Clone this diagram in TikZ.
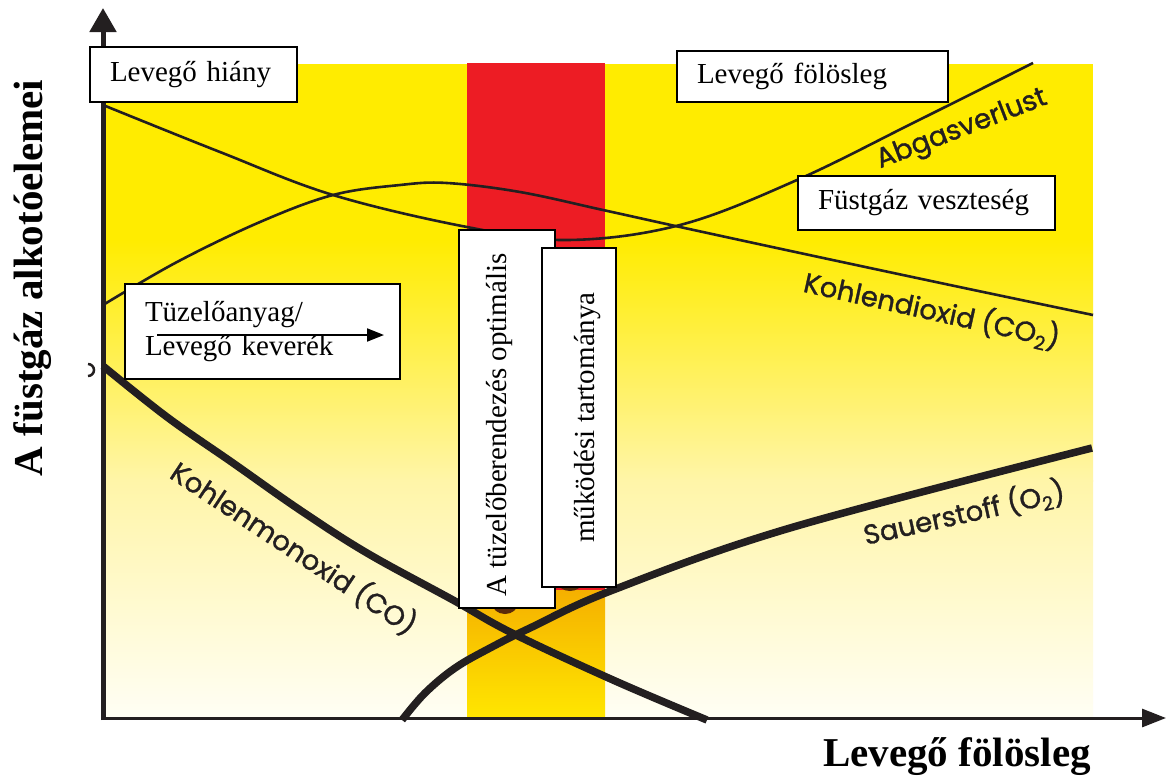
\documentclass[tikz,border=0pt]{standalone}
\usepackage{fontspec}
\setmainfont{Liberation Serif}
\newfontfamily\curvefont[FakeBold=1.2]{Poppins}
\usetikzlibrary{arrows.meta}
\definecolor{bgyellow}{HTML}{FFEC00}
\definecolor{midyellow}{HTML}{FFF5A8}
\definecolor{paleyellow}{HTML}{FFFEF4}
\definecolor{bandred}{HTML}{ED1C24}
\definecolor{bandorange}{HTML}{F5B000}
\definecolor{bandyellow}{HTML}{FFE600}
\definecolor{curveblack}{HTML}{231F20}
\definecolor{blobbrown}{HTML}{5A2A0A}
\begin{document}
\begin{tikzpicture}[x=1pt,y=-1pt,
  lbox/.style={draw=black, line width=1.2pt, fill=white, inner xsep=20pt, inner ysep=0pt,
    align=left, font=\fontsize{29}{34}\selectfont},
  vbox/.style={draw=black, line width=1.2pt, fill=white, inner sep=0pt},
  vtext/.style={rotate=90, font=\fontsize{29}{34}\selectfont, inner sep=0pt},
  thincurve/.style={line width=2.6pt, draw=curveblack},
  thickcurve/.style={line width=7.5pt, draw=curveblack},
  clabel/.style={font=\curvefont\fontsize{27.5}{32}\selectfont, text=curveblack, inner sep=0pt},
  axislabel/.style={font=\fontsize{41}{48}\selectfont\bfseries, inner sep=0pt}
]
\useasboundingbox (0,0) rectangle (1167,780);
\fill[white] (0,0) rectangle (1167,780);
% background
\fill[bgyellow] (103,64) rectangle (1093,241);
\fill[top color=bgyellow, bottom color=midyellow] (103,240) rectangle (1093,481);
\fill[top color=midyellow, bottom color=paleyellow] (103,480) rectangle (1093,717);
% optimal band
\fill[bandred] (467,63) rectangle (605,591);
\fill[top color=bandorange, bottom color=bandyellow] (467,590) rectangle (605,717);
% curves
\draw[thincurve] plot[smooth, tension=0.6] coordinates {(103,105) (220,152) (333,195) (467,227) (567,240) (680,225) (797,180) (915,122) (1033,63)};
\draw[thincurve] plot[smooth, tension=0.6] coordinates {(103,305) (177,262) (260,222) (333,195) (400,185) (447,183) (520,192) (603,210) (680,227) (800,253) (950,285) (1093,315)};
\draw[thickcurve] plot[smooth, tension=0.6] coordinates {(103,366) (167,417) (233,463) (300,510) (367,553) (453,600) (512,633) (613,680) (707,720)};
\draw[thickcurve] plot[smooth, tension=0.6] coordinates {(402,720) (425,693) (455,668) (490,648) (530,628) (613,590) (790,528) (1092,448)};
% curve labels
\node[clabel, rotate=21] (abgas) at (962,130) {Abgasverlust};
\node[clabel, rotate=-12.5] (co2lab) at (932,310) {Kohlendioxid (CO\textsubscript{2})};
\node[clabel, rotate=-33.5] (colab) at (294,548) {Kohlenmonoxid (CO)};
\node[clabel, rotate=12.5] (o2lab) at (964,513) {Sauerstoff (O\textsubscript{2})};
% partly hidden marks
\fill[blobbrown] (505,603) ellipse [x radius=13, y radius=11];
\fill[blobbrown] (570,582) ellipse [x radius=12, y radius=9];
\draw[line width=2.5pt, curveblack] (88,364) arc[start angle=-90, end angle=90, radius=6];
% axes
\coordinate (ybot) at (103,720);
\coordinate (ytop) at (103,8);
\coordinate (xleft) at (101,718);
\coordinate (xright) at (1166,718);
\draw[line width=5pt, curveblack, -{Triangle[length=24pt,width=26pt]}] (ybot) -- (ytop);
\draw[line width=3pt, curveblack, -{Triangle[length=24pt,width=18pt]}] (xleft) -- (xright);
% boxes
\node[lbox, text width=167pt, minimum height=55pt] (hiany) at (193.5,74.5) {Levegő hiány};
\node[lbox, text width=231pt, minimum height=51pt] (folosleg) at (812.5,76.5) {Levegő fölösleg};
\node[lbox, text width=217pt, minimum height=54pt] (fustgaz) at (926.5,203) {Füstgáz veszteség};
\node[lbox, text width=235pt, minimum height=95pt] (keverek) at (262.5,331.5) {Tüzelőanyag/\\Levegő keverék};
\coordinate (arrS) at (157,335);
\coordinate (arrE) at (384,335);
\draw[line width=2pt, -{Triangle[length=17pt,width=13pt]}] (arrS) -- (arrE);
\node[vbox, minimum width=96pt, minimum height=378pt] (vb1) at (507,419) {};
\node[vtext] (vt1) at (499,425) {A tüzelőberendezés optimális};
\node[vbox, minimum width=74pt, minimum height=339pt] (vb2) at (579,417.5) {};
\node[vtext] (vt2) at (588,417.5) {működési tartománya};
% axis labels
\node[axislabel, rotate=90] (ylab) at (33,278) {A füstgáz alkotóelemei};
\node[axislabel] (xlab) at (957,757) {Levegő fölösleg};
\end{tikzpicture}
\end{document}
